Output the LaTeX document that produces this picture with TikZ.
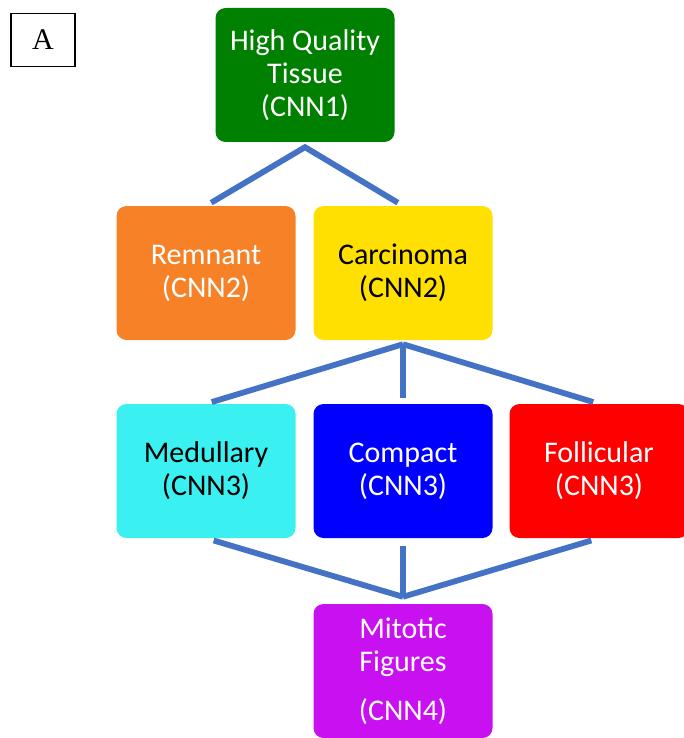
\documentclass[tikz,border=0pt]{standalone}
\usepackage{fontspec}
\setmainfont{Carlito}
\newfontfamily\panelfont{Liberation Serif}
\usetikzlibrary{positioning}
\definecolor{cnngreen}{RGB}{0,128,0}
\definecolor{cnnorange}{RGB}{247,129,38}
\definecolor{cnnyellow}{RGB}{255,224,0}
\definecolor{cnncyan}{RGB}{58,240,240}
\definecolor{cnnblue}{RGB}{0,0,255}
\definecolor{cnnred}{RGB}{255,0,0}
\definecolor{cnnpurple}{RGB}{200,16,240}
\definecolor{cnnline}{RGB}{68,114,196}

\begin{document}
\begin{tikzpicture}[x=1pt, y=-1pt,
    cnnbox/.style={rounded corners=10pt, minimum width=179pt, minimum height=134pt,
        inner sep=0pt, align=center, font=\fontsize{30}{33}\selectfont},
    link/.style={draw=cnnline, line width=5.8pt}]
        \useasboundingbox (0,0) rectangle (683,738);

        % Panel label
        \node[draw, line width=1.8pt, minimum width=64pt, minimum height=53pt,
            font=\panelfont\fontsize{30}{32}\selectfont] (panel) at (43,40) {A};

        % First level
        \node[cnnbox, fill=cnngreen, text=white] (hq) at (305,75) {High Quality\\Tissue\\(CNN1)};

        % Second level
        \node[cnnbox, fill=cnnorange, text=white] (rem) at (206,273) {Remnant\\(CNN2)};
        \node[cnnbox, fill=cnnyellow, text=black] (car) at (403,273) {Carcinoma\\(CNN2)};

        % Third level
        \node[cnnbox, fill=cnncyan, text=black] (med) at (206,471) {Medullary\\(CNN3)};
        \node[cnnbox, fill=cnnblue, text=white] (com) at (403,471) {Compact\\(CNN3)};
        \node[cnnbox, fill=cnnred, text=white] (fol) at (599,471) {Follicular\\(CNN3)};

        % Fourth level
        \node[cnnbox, fill=cnnpurple, text=white] (mit) at (403,671) {Mitotic\\Figures\\[16pt](CNN4)};

        % Fork points
        \coordinate (hqfork) at ([yshift=-5pt]hq.south);
        \coordinate (carfork) at ([yshift=-4pt]car.south);
        \coordinate (mitfork) at ([yshift=7pt]mit.north);

        % Links
        \draw[link, shorten <=6pt, shorten >=6pt] (rem.north) -- (hqfork) -- (car.north);
        \draw[link, shorten >=6pt] (carfork) -- (med.north);
        \draw[link, shorten >=6pt] (carfork) -- (com.north);
        \draw[link, shorten >=6pt] (carfork) -- (fol.north);
        \draw[link, shorten >=8pt] (mitfork) -- (med.south);
        \draw[link, shorten >=8pt] (mitfork) -- (com.south);
        \draw[link, shorten >=8pt] (mitfork) -- (fol.south);
    \end{tikzpicture}
\end{document}
